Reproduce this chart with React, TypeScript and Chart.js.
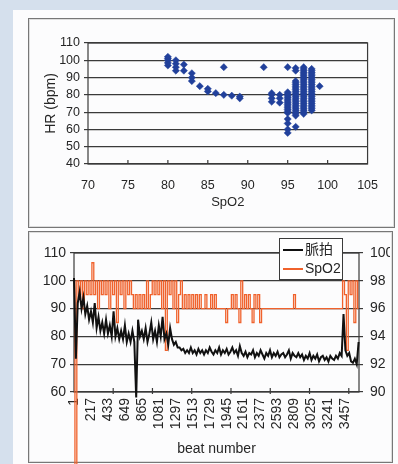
import React, { useEffect, useRef } from "react";
import { Chart, registerables } from "chart.js";

Chart.register(...registerables);

// ---------- Top chart: HR vs SpO2 scatter ----------
const SCATTER_SPO2 = [80, 81, 82, 83, 84, 85, 86, 87, 88, 89, 92, 93, 94, 95, 96, 97, 98, 99];
const SCATTER_HR = [
  [97, 98.5, 100, 101, 102],
  [94, 96, 98, 100],
  [94, 97.5],
  [88, 90, 92.5],
  [85],
  [82, 83.5],
  [81],
  [80, 96],
  [79.5],
  [78, 79],
  [96],
  [76, 78, 80, 81],
  [75.5, 78, 80],
  [58, 60, 63.5, 66, 69.5, 70.5, 71.5, 72.5, 73.5, 74.5, 75.5, 76.5, 77.5, 78.5, 79.5, 80.5, 81.5, 96],
  [61.5, 68, 69, 70, 71, 72, 73, 74, 75, 76, 77, 78, 79, 80, 81, 82, 83, 84, 85, 86, 87, 88, 94, 95.5],
  [69, 70, 71, 72, 73, 74, 75, 76, 77, 78, 79, 80, 81, 82, 83, 84, 85, 86, 87, 88, 89, 90, 91, 92, 93, 94, 95, 96],
  [71, 72, 73, 74, 75, 76, 77, 78, 79, 80, 81, 82, 83, 84, 85, 86, 87, 88, 89, 90, 91, 92, 93, 94, 95],
  [85],
];

// ---------- Bottom chart: beat series ----------
const BEAT_START = 1;
const BEAT_STEP = 24;
const BEAT_MAX = 3630;
const BEAT_TICKS = [1, 217, 433, 649, 865, 1081, 1297, 1513, 1729, 1945, 2161, 2377, 2593, 2809, 3025, 3241, 3457];
const BEAT_TICK_MARKS = [500, 1000, 1500, 2000, 2500, 3000, 3500];

const HR_SERIES = [
  101, 72, 92, 96, 90, 94, 88, 91, 86, 89,
  85, 92, 83, 87, 82, 85, 81, 86, 81, 84,
  80, 89, 80, 83, 79, 82, 79, 84, 78, 81,
  78, 82, 78, 58, 86, 80, 82, 79, 83, 78,
  81, 85, 79, 82, 78, 84, 80, 87, 79, 81,
  77, 83, 79, 77, 78, 76, 76, 75, 75.5, 74,
  75, 74, 76, 74, 75, 73.5, 75.5, 74, 75, 73.5,
  75, 74, 76, 74.5, 73.5, 75, 74, 76, 73.5, 75,
  74, 75.5, 73.5, 74.5, 76, 74, 75, 73, 76.5, 74,
  73, 74.5, 72.5, 74, 73.5, 75, 72.5, 74, 73, 75,
  73.5, 72, 74, 73, 75, 72.5, 74, 73, 74.5, 72.5,
  73.5, 74, 72.5, 73.5, 75, 72, 74, 73, 72.5, 74,
  72.5, 73.5, 71.5, 73, 72, 74, 71.5, 73, 72, 73.5,
  71, 72.5, 73, 71.5, 72.5, 71, 73, 72, 71.5, 73,
  72, 74, 73, 88, 75, 73, 74, 71, 70.5, 72, 70, 78,
];

const SPO2_SERIES = [
  98, 80, 98, 97, 98, 96, 98, 97, 98, 97,
  99.3, 97, 98, 96, 98, 97, 98, 97, 98, 96,
  98, 97, 98, 95, 98, 97, 98, 96, 98, 97,
  98, 97, 96, 97, 96, 97, 96, 97, 96, 98,
  96, 97, 98, 97, 98, 97, 98, 96, 98, 93,
  98, 97, 98, 96, 98, 95, 97, 98, 96, 97,
  96, 97, 96, 97, 96, 97, 96, 97, 96, 96,
  97, 96, 96, 97, 96, 97, 96, 96, 96, 96,
  96, 95, 96, 96, 97, 96, 97, 96, 95, 98,
  96, 97, 96, 97, 96, 95, 97, 96, 97, 95,
  96, 96, 96, 96, 96, 96, 96, 96, 96, 96,
  96, 96, 96, 96, 96, 96, 96, 97, 96, 96,
  96, 96, 96, 96, 96, 96, 96, 96, 96, 96,
  96, 96, 96, 96, 96, 96, 96, 96, 96, 96,
  96, 96, 96, 98, 97, 93, 98, 97, 98, 95, 98, 96,
];

const FONT = "'Liberation Sans', 'Noto Sans CJK JP', sans-serif";
const TEXT = "#262626";
const GRID = "#3a3a3a";
const BLUE = "#21409b";
const BLACK = "#111";
const ORANGE = "#f0622c";

const framePlugin = {
  id: "frame",
  beforeDatasetsDraw(chart: any, _a: any, opts: any) {
    const { ctx, chartArea } = chart;
    ctx.save();
    ctx.strokeStyle = GRID;
    ctx.lineWidth = 1.2;
    ctx.strokeRect(chartArea.left, chartArea.top, chartArea.right - chartArea.left, chartArea.bottom - chartArea.top);
    const xs = chart.scales.x;
    const values: number[] = opts.marks || xs.ticks.map((t: any) => t.value);
    ctx.beginPath();
    values.forEach((v) => {
      const px = xs.getPixelForValue(v);
      if (px <= chartArea.left + 1 || px >= chartArea.right - 1) return;
      ctx.moveTo(px, chartArea.bottom - (opts.up ?? 4));
      ctx.lineTo(px, chartArea.bottom + (opts.down ?? 0));
    });
    ctx.stroke();
    ctx.restore();
  },
};

const legendPlugin = {
  id: "boxLegend",
  afterDraw(chart: any) {
    const { ctx } = chart;
    const x = 249, y = 5, w = 63, h = 41;
    ctx.save();
    ctx.fillStyle = "#fff";
    ctx.fillRect(x, y, w, h);
    ctx.strokeStyle = GRID;
    ctx.lineWidth = 1;
    ctx.strokeRect(x + 0.5, y + 0.5, w, h);
    const items = [
      { label: chart.data.datasets[0].label, color: BLACK, ly: y + 12 },
      { label: chart.data.datasets[1].label, color: ORANGE, ly: y + 31 },
    ];
    items.forEach((it) => {
      ctx.strokeStyle = it.color;
      ctx.lineWidth = 2;
      ctx.beginPath();
      ctx.moveTo(x + 4, it.ly);
      ctx.lineTo(x + 24, it.ly);
      ctx.stroke();
      ctx.fillStyle = TEXT;
      ctx.font = `14px ${FONT}`;
      ctx.textBaseline = "middle";
      ctx.fillText(it.label, x + 26, it.ly);
    });
    ctx.restore();
  },
};

function TopChart() {
  const ref = useRef<HTMLCanvasElement>(null);
  useEffect(() => {
    const points: { x: number; y: number }[] = [];
    SCATTER_SPO2.forEach((s, i) => SCATTER_HR[i].forEach((h) => points.push({ x: s, y: h })));
    const chart = new Chart(ref.current as HTMLCanvasElement, {
      type: "scatter",
      data: {
        datasets: [
          {
            label: "HR",
            data: points,
            pointStyle: "rectRot",
            pointRadius: 3.6,
            pointBackgroundColor: BLUE,
            pointBorderColor: BLUE,
            pointBorderWidth: 0.5,
          },
        ],
      },
      options: {
        animation: false,
        responsive: false,
        events: [],
        layout: { padding: { top: 23, right: 12, left: 0, bottom: 0 } },
        plugins: { legend: { display: false }, tooltip: { enabled: false }, frame: { up: 4, down: 0 } } as any,
        scales: {
          x: {
            type: "linear",
            min: 70,
            max: 105,
            ticks: { stepSize: 5, autoSkip: false, font: { size: 12.5, family: FONT }, color: TEXT, padding: 14 },
            grid: { display: false, drawTicks: false },
            border: { display: false },
            title: { display: true, text: "SpO2", font: { size: 13, family: FONT }, color: TEXT, padding: { top: 0, bottom: 16 } },
            afterFit: (s: any) => { s.height = 62; },
          },
          y: {
            min: 40,
            max: 110,
            ticks: { stepSize: 10, autoSkip: false, font: { size: 12.5, family: FONT }, color: TEXT, padding: 4 },
            grid: { color: GRID, lineWidth: 1.2, tickLength: 4, drawTicks: true },
            border: { display: false },
            title: { display: true, text: "HR (bpm)", font: { size: 14, family: FONT }, color: TEXT, padding: { top: 13, bottom: 0 } },
            afterFit: (s: any) => { s.width = 58; },
          },
        },
      } as any,
      plugins: [framePlugin],
    });
    return () => chart.destroy();
  }, []);
  return (
    <canvas ref={ref} width={362} height={206}
      style={{ position: "absolute", left: 30, top: 20, width: 362, height: 206 }} />
  );
}

function BottomChart() {
  const ref = useRef<HTMLCanvasElement>(null);
  useEffect(() => {
    const hr = HR_SERIES.map((v, i) => ({ x: BEAT_START + i * BEAT_STEP, y: v }));
    const sp = SPO2_SERIES.map((v, i) => ({ x: BEAT_START + i * BEAT_STEP, y: v }));
    const chart = new Chart(ref.current as HTMLCanvasElement, {
      type: "line",
      data: {
        datasets: [
          { label: "脈拍", data: hr, yAxisID: "y", borderColor: BLACK, borderWidth: 2, pointRadius: 0, tension: 0, clip: false },
          { label: "SpO2", data: sp, yAxisID: "y2", borderColor: ORANGE, borderWidth: 1.3, pointRadius: 0, tension: 0, stepped: "middle", clip: false },
        ],
      },
      options: {
        animation: false,
        responsive: false,
        events: [],
        layout: { padding: { top: 20, right: 0, left: 0, bottom: 0 } },
        plugins: { legend: { display: false }, tooltip: { enabled: false }, frame: { marks: BEAT_TICK_MARKS, up: 4, down: 2 } } as any,
        scales: {
          x: {
            type: "linear",
            min: BEAT_START,
            max: BEAT_MAX,
            afterBuildTicks: (s: any) => { s.ticks = BEAT_TICKS.map((v) => ({ value: v })); },
            ticks: {
              autoSkip: false, minRotation: 90, maxRotation: 90,
              font: { size: 14, family: FONT }, color: TEXT, padding: 6,
              callback: (v: any) => String(v),
            },
            grid: { display: false, drawTicks: false },
            border: { display: false },
            title: { display: true, text: "beat number", font: { size: 14, family: FONT }, color: TEXT, padding: { top: 0, bottom: 6 } },
            afterFit: (s: any) => { s.height = 72; },
          },
          y: {
            position: "left",
            min: 60,
            max: 110,
            ticks: { stepSize: 10, autoSkip: false, font: { size: 14, family: FONT }, color: TEXT, padding: 4 },
            grid: { color: GRID, lineWidth: 1.2, tickLength: 4, drawTicks: true },
            border: { display: false },
            afterFit: (s: any) => { s.width = 44; },
          },
          y2: {
            position: "right",
            min: 90,
            max: 100,
            ticks: { stepSize: 2, autoSkip: false, font: { size: 14, family: FONT }, color: TEXT, padding: 7 },
            grid: { drawOnChartArea: false, color: GRID, lineWidth: 1.2, tickLength: 4, drawTicks: true },
            border: { display: false },
            afterFit: (s: any) => { s.width = 31; },
          },
        },
      } as any,
      plugins: [framePlugin, legendPlugin],
    });
    return () => chart.destroy();
  }, []);
  return (
    <canvas ref={ref} width={360} height={231}
      style={{ position: "absolute", left: 30, top: 233, width: 360, height: 231 }} />
  );
}

export default function App() {
  return (
    <div style={{ position: "absolute", left: 0, top: 0, width: 398, height: 464, background: "#d5e0ed", overflow: "hidden" }}>
      <div style={{ position: "absolute", left: 13, top: 10, width: 385, height: 454, background: "#fcfcfd" }} />
      <div style={{ position: "absolute", left: 28, top: 18, width: 365, height: 208, border: "1px solid #777", boxShadow: "inset 0 0 0 1px #ddd" }} />
      <div style={{ position: "absolute", left: 28, top: 231, width: 363, height: 230, border: "1px solid #777", boxShadow: "inset 0 0 0 1px #ddd" }} />
      <TopChart />
      <BottomChart />
    </div>
  );
}
